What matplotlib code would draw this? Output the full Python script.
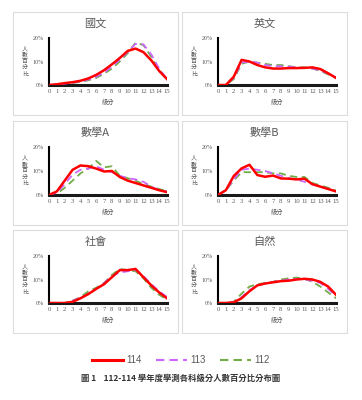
import numpy as np
import matplotlib.pyplot as plt
from matplotlib.patches import Rectangle
from matplotlib.ticker import FuncFormatter
from matplotlib.lines import Line2D

plt.rcParams['font.family'] = ['Noto Sans CJK TC', 'DejaVu Sans']

scores = list(range(16))
years = ["114", "113", "112"]
subjects = ["國文", "英文", "數學A", "數學B", "社會", "自然"]
ylabel_chars = ["人", "數", "百", "分", "比"]

# percentage of students per score (0-15)
chinese_114 = [0, 0.3, 0.8, 1.2, 1.8, 2.8, 4.3, 6.3, 8.8, 11.5, 14.5, 15.5, 14.0, 10.5, 6.0, 2.5]
chinese_113 = [0, 0.2, 0.6, 1.0, 1.5, 2.3, 3.5, 5.3, 7.8, 10.8, 14.0, 17.5, 17.3, 13.0, 7.0, 2.5]
chinese_112 = [0, 0.2, 0.5, 0.9, 1.3, 2.0, 3.0, 4.8, 7.0, 10.0, 13.5, 18.0, 17.0, 12.0, 6.5, 2.2]

english_114 = [0, 0, 3.5, 10.7, 10.0, 8.5, 7.5, 7.0, 7.0, 7.2, 7.2, 7.3, 7.5, 6.8, 5.0, 3.0]
english_113 = [0, 0, 3.0, 9.5, 10.0, 9.5, 8.5, 8.0, 8.0, 7.8, 7.5, 7.2, 7.0, 6.2, 4.8, 3.2]
english_112 = [0, 0, 2.5, 9.0, 10.0, 9.5, 9.0, 8.5, 8.5, 8.0, 7.5, 7.5, 7.0, 6.0, 4.5, 3.0]

matha_114 = [0, 1.5, 6.0, 10.5, 12.3, 12.0, 11.0, 9.8, 10.0, 7.5, 6.0, 5.0, 4.0, 3.0, 2.0, 1.2]
matha_113 = [0, 1.0, 4.5, 8.5, 10.5, 11.0, 12.0, 10.5, 9.5, 8.0, 7.0, 6.5, 5.5, 3.5, 2.0, 1.5]
matha_112 = [0, 0.5, 3.0, 6.0, 9.0, 11.0, 14.2, 11.5, 12.0, 8.0, 7.0, 6.0, 4.5, 3.5, 2.5, 1.5]

mathb_114 = [0, 2.0, 7.9, 11.1, 12.6, 8.3, 7.6, 8.1, 6.9, 6.8, 6.5, 6.8, 4.5, 3.5, 2.5, 1.5]
mathb_113 = [0, 2.0, 6.5, 10.5, 11.0, 10.5, 10.0, 9.0, 8.0, 7.0, 6.5, 5.5, 4.5, 3.5, 2.5, 1.5]
mathb_112 = [0, 2.0, 6.0, 9.5, 9.5, 9.5, 9.5, 9.0, 9.0, 8.0, 7.5, 7.5, 5.0, 4.0, 3.0, 1.8]

social_114 = [0, 0, 0, 0.5, 2.0, 3.8, 6.0, 8.0, 11.0, 14.0, 14.0, 14.5, 11.0, 7.5, 4.5, 2.0]
social_113 = [0, 0, 0, 1.0, 2.2, 4.0, 6.0, 8.5, 11.5, 13.0, 13.5, 14.0, 11.5, 8.0, 5.0, 2.5]
social_112 = [0, 0, 0, 1.0, 2.5, 5.0, 6.5, 8.5, 12.0, 14.5, 14.0, 13.5, 10.5, 6.5, 3.5, 1.5]

science_114 = [0, 0, 0.3, 2.0, 5.0, 7.5, 8.3, 8.8, 9.3, 9.5, 10.0, 10.3, 10.0, 9.0, 7.0, 3.5]
science_113 = [0, 0, 0.3, 2.5, 5.5, 7.5, 8.3, 9.0, 9.5, 10.0, 10.3, 10.0, 9.5, 8.5, 6.0, 3.0]
science_112 = [0, 0, 0.5, 4.0, 7.0, 8.0, 8.5, 9.0, 10.0, 10.5, 10.8, 10.3, 9.0, 7.0, 4.5, 2.0]

series = [
    (chinese_114, chinese_113, chinese_112),
    (english_114, english_113, english_112),
    (matha_114, matha_113, matha_112),
    (mathb_114, mathb_113, mathb_112),
    (social_114, social_113, social_112),
    (science_114, science_113, science_112),
]

W, H = 362, 400
fig = plt.figure(figsize=(W / 100, H / 100), dpi=100)

gray = '#595959'
col_x = [13, 182]
row_y = [(12, 115), (121, 225), (230, 333)]
box_w = 165

def fx(x):
    return x / W

def fy(y):
    return 1 - y / H

for i, name in enumerate(subjects):
    r, c = divmod(i, 2)
    bx = col_x[c]
    top, bot = row_y[r]

    # panel frame
    fig.patches.append(Rectangle((fx(bx), fy(bot)), box_w / W, (bot - top) / H,
                                 transform=fig.transFigure, fill=False,
                                 edgecolor='#dcdcdc', linewidth=0.8))

    ax_top = top + 26
    ax_bot = bot - 30
    ax = fig.add_axes([fx(bx + 36), fy(ax_bot), 118 / W, (ax_bot - ax_top) / H])
    s114, s113, s112 = series[i]
    ax.plot(scores, s112, color='#70AD47', lw=1.3, dashes=(4, 2.5), zorder=2)
    ax.plot(scores, s113, color='#CC66FF', lw=1.3, dashes=(4, 2.5), zorder=3)
    ax.plot(scores, s114, color='#FF0000', lw=1.8, zorder=4, solid_joinstyle='round')

    ax.set_xlim(0, 15)
    ax.set_ylim(0, 20)
    ax.set_xticks(scores)
    ax.set_yticks([0, 10, 20])
    ax.yaxis.set_major_formatter(FuncFormatter(lambda v, p: f"{v:.0f}%"))
    ax.tick_params(length=0, labelsize=4.8, colors=gray, pad=3)
    for lab in ax.get_xticklabels() + ax.get_yticklabels():
        lab.set_family(['Liberation Serif', 'Noto Sans CJK TC'])
    ax.tick_params(axis='y', labelsize=4.3, pad=4)
    for sp in ['top', 'right']:
        ax.spines[sp].set_visible(False)
    ax.spines['left'].set_linewidth(1.5)
    ax.spines['left'].set_color('black')
    ax.spines['bottom'].set_linewidth(2.2)
    ax.spines['bottom'].set_color('#1a1a1a')
    ax.set_xlabel("級分", fontsize=4.5, color=gray, labelpad=3)

    fig.text(fx(bx + box_w / 2), fy(top + 12), name, ha='center', va='center',
             fontsize=8, color=gray)
    # stacked vertical y label
    mid = (ax_top + ax_bot) / 2
    for k, ch in enumerate(ylabel_chars):
        fig.text(fx(bx + 12), fy(mid + (k - 2) * 6.4), ch, ha='center', va='center',
                 fontsize=4.3, color=gray)

handles = [
    Line2D([], [], color='#FF0000', lw=2.2),
    Line2D([], [], color='#CC66FF', lw=1.5, dashes=(4, 2.5)),
    Line2D([], [], color='#70AD47', lw=1.5, dashes=(4, 2.5)),
]
fig.legend(handles, years, loc='center', bbox_to_anchor=(0.5, fy(360)), ncol=3,
           frameon=False, labelcolor=gray, handlelength=3.2,
           handletextpad=0.3, columnspacing=1.5,
           prop={'family': ['Liberation Sans', 'Noto Sans CJK TC'], 'size': 7})

fig.text(0.5, fy(378), "圖 1    112-114 學年度學測各科級分人數百分比分布圖",
         ha='center', va='center', fontsize=6, color='#333333', fontweight='bold')

fig.savefig("out.png", dpi=100)
